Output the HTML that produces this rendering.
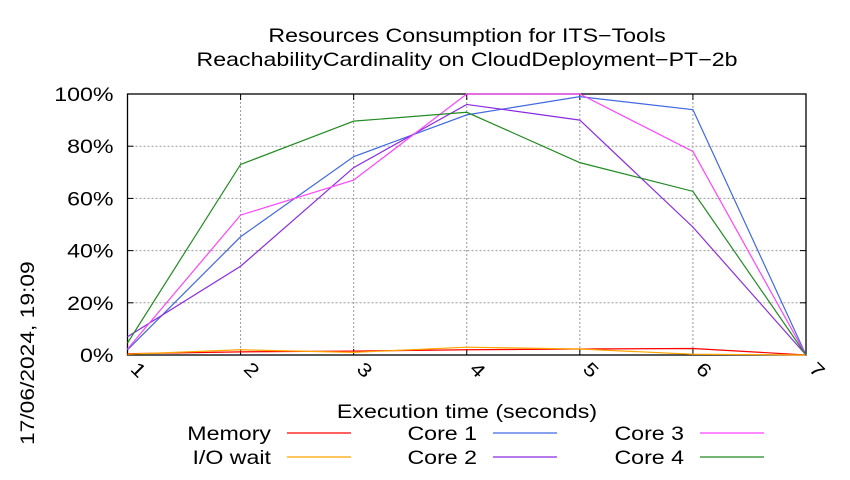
<!DOCTYPE html>
<html><head><meta charset="utf-8"><style>
body{margin:0;background:#fff;}
svg text{font-family:"Liberation Sans",sans-serif;fill:#000;}
</style></head><body>
<svg width="850" height="475" xmlns="http://www.w3.org/2000/svg">
<rect width="850" height="475" fill="#fff"/>
<text transform="translate(467,42) scale(1.22,1)" font-size="19" text-anchor="middle">Resources Consumption for ITS−Tools</text>
<text transform="translate(467,66) scale(1.22,1)" font-size="19" text-anchor="middle">ReachabilityCardinality on CloudDeployment−PT−2b</text>
<g id="grid"></g>
<g id="axes"></g>
<g id="series"></g>
<text transform="translate(467,418) scale(1.22,1)" font-size="19" text-anchor="middle">Execution time (seconds)</text>
<text transform="translate(34,445) rotate(-90) scale(1.2,1)" font-size="19">17/06/2024, 19:09</text>
<g id="legend"></g>
</svg>
<script>
const xValues=[1,2,3,4,5,6,7];
const yTicks=[0,20,40,60,80,100];
const memory=[0.5,1.2,1.5,2,2.3,2.5,0];
const ioWait=[0.3,2,1,3,2.3,0.3,0];
const core1=[2,45.3,76,92,99,94,0];
const core2=[7,34,71.8,96,90,49,0];
const core3=[2.3,53.6,67,100,100,78,0];
const core4=[4.6,73,89.6,93,73.7,62.7,0];
const seriesNames=["Memory","I/O wait","Core 1","Core 2","Core 3","Core 4"];
const seriesColors=["#ff0000","#ffa500","#4169e1","#8a2be2","#ff44ff","#228b22"];
const seriesData=[memory,ioWait,core1,core2,core3,core4];
const L=127.5,R=806,T=94,B=355;
const ns="http://www.w3.org/2000/svg";
function sx(v){return L+(v-1)/(6)*(R-L);}
function sy(v){return B-v/100*(B-T);}
function mk(tag,attrs,parent){const e=document.createElementNS(ns,tag);for(const k in attrs)e.setAttribute(k,attrs[k]);parent.appendChild(e);return e;}
const grid=document.getElementById('grid'),axes=document.getElementById('axes'),ser=document.getElementById('series'),leg=document.getElementById('legend');
yTicks.forEach(t=>{
  const y=sy(t);
  if(t>0&&t<100){const g=mk('line',{x1:L,x2:R,y1:y,y2:y,stroke:'#999','stroke-dasharray':'2,2','stroke-width':1},grid);
  
  }
  const lab=mk('text',{transform:`translate(${L-14},${y+7}) scale(1.22,1)`,'font-size':19,'text-anchor':'end'},axes);
  lab.textContent=t+'%';
  
  
  mk('line',{x1:L,x2:L+6,y1:y,y2:y,stroke:'#000'},axes);
  mk('line',{x1:R-6,x2:R,y1:y,y2:y,stroke:'#000'},axes);
});
xValues.forEach(v=>{
  const x=sx(v);
  if(v>1&&v<7){const g=mk('line',{x1:x,x2:x,y1:T,y2:B,stroke:'#999','stroke-dasharray':'2,2','stroke-width':1},grid);
  
  }
  mk('line',{x1:x,x2:x,y1:B,y2:B-6,stroke:'#000'},axes);
  mk('line',{x1:x,x2:x,y1:T,y2:T+6,stroke:'#000'},axes);
  const lab=mk('text',{transform:`translate(${x+2},${370}) rotate(45) scale(1.2,1)`,'font-size':19},axes);
  lab.textContent=v;
  
  
});
const fr=mk('rect',{x:L,y:T,width:R-L,height:B-T,fill:'none',stroke:'#000','stroke-width':1.3},axes);


seriesData.forEach((d,i)=>{
  const p=mk('polyline',{points:d.map((v,j)=>sx(xValues[j])+','+sy(v)).join(' '),fill:'none',stroke:seriesColors[i],'stroke-width':1.2},ser);
  
  
});
const legPos=[[287,433],[287,457],[493,433],[493,457],[700,433],[700,457]];
seriesNames.forEach((n,i)=>{
  const [x,y]=legPos[i];
  const t=mk('text',{transform:`translate(${x-16},${y+7}) scale(1.22,1)`,'font-size':19,'text-anchor':'end'},leg);
  t.textContent=n;
  
  
  const l=mk('line',{x1:x,x2:x+64,y1:y,y2:y,stroke:seriesColors[i],'stroke-width':1.2},leg);
  
  
});
</script>
</body></html>
